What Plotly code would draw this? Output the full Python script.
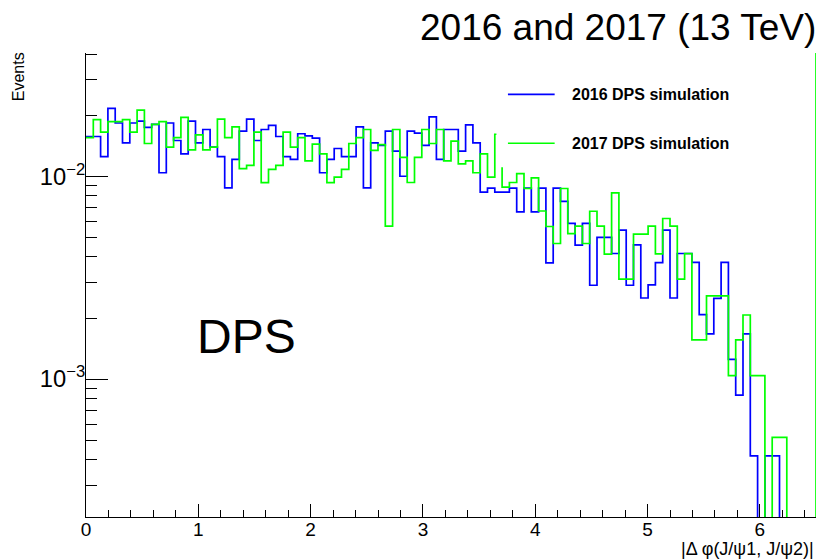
import numpy as np
import plotly.graph_objects as go

# ---- data ----
x_min, x_max, n_bins = 0.0, 6.5, 100

dps_2016 = [
    0.0157, 0.0157, 0.0125, 0.0216, 0.0183, 0.0146, 0.0183, 0.0187, 0.0174, 0.0180,
    0.0104, 0.0183, 0.0150, 0.0129, 0.0187, 0.0146, 0.0170, 0.0139, 0.0125, 0.00876,
    0.0121, 0.0167, 0.0191, 0.0150, 0.0170, 0.0178, 0.0157, 0.0125, 0.0121, 0.0162,
    0.0158, 0.0154, 0.0104, 0.0121, 0.0137, 0.0125, 0.0125, 0.0175, 0.00876, 0.0146,
    0.0142, 0.0167, 0.0133, 0.0100, 0.0167, 0.0163, 0.0142, 0.0196, 0.0121, 0.0170,
    0.0170, 0.0133, 0.0179, 0.0146, 0.00834, 0.00873, 0.00834, 0.00834, 0.00873, 0.00667,
    0.00873, 0.00667, 0.00873, 0.00374, 0.00873, 0.00751, 0.00585, 0.00457, 0.00585, 0.00290,
    0.00499, 0.00499, 0.00416, 0.00542, 0.00290, 0.00459, 0.00251, 0.00291, 0.00375, 0.00542,
    0.00251, 0.00416, 0.00416, 0.00376, 0.00208, 0.00167, 0.00250, 0.00376, 0.00125, 0.000834,
    0.00167, 0.000418, 0.0, 0.000418, 0.000418, 0.0, 0.0, 0.0, 0.0, 0.0,
]

dps_2017 = [
    0.0155, 0.0190, 0.0165, 0.0186, 0.0186, 0.0190, 0.0165, 0.0212, 0.0145, 0.0180,
    0.0186, 0.0139, 0.0155, 0.0195, 0.0135, 0.0160, 0.0135, 0.0139, 0.0191, 0.0155,
    0.0175, 0.0109, 0.0113, 0.0165, 0.00929, 0.0108, 0.0113, 0.0165, 0.0139, 0.0155,
    0.0119, 0.0144, 0.0129, 0.00929, 0.00989, 0.0108, 0.0145, 0.0155, 0.0170, 0.0134,
    0.0143, 0.00568, 0.0170, 0.0124, 0.00931, 0.0124, 0.0170, 0.0145, 0.0170, 0.0119,
    0.0149, 0.0115, 0.0119, 0.0104, 0.0129, 0.00989, 0.0161, 0.00883, 0.00931, 0.0103,
    0.00870, 0.00981, 0.00674, 0.00565, 0.00466, 0.00870, 0.00521, 0.00567, 0.00466, 0.00672,
    0.00567, 0.00413, 0.00827, 0.00311, 0.00311, 0.00518, 0.00518, 0.00568, 0.00414, 0.00619,
    0.00568, 0.00311, 0.00415, 0.00156, 0.00156, 0.00257, 0.00257, 0.00257, 0.00104, 0.00156,
    0.00207, 0.00104, 0.00104, 0.0, 0.000516, 0.000516, 0.0, 0.0, 0.0, 0.0,
]

series_names = ["2016 DPS simulation", "2017 DPS simulation"]
series_colors = ["rgb(0,0,255)", "rgb(0,255,0)"]
title_text = "2016 and 2017 (13 TeV)"
x_title = "|\u0394 \u03c6(J/\u03c81, J/\u03c82)|"
y_title = "Events"
y_range = [-3.68, -1.3925]  # log10

# ---- build figure ----
edges = np.linspace(x_min, x_max, n_bins + 1)
floor = 1e-6  # empty bins drop below the axis


def step_trace(vals, name, color):
    v = [val if val > 0 else floor for val in vals]
    return go.Scatter(
        x=edges, y=v + [v[-1]], mode="lines", line_shape="hv",
        line=dict(color=color, width=1.7), name=name, showlegend=False,
        hoverinfo="skip",
    )


fig = go.Figure()
fig.add_trace(step_trace(dps_2016, series_names[0], series_colors[0]))
fig.add_trace(step_trace(dps_2017, series_names[1], series_colors[1]))

font_main = "Liberation Sans, Arial, sans-serif"

fig.update_layout(
    width=828, height=560,
    margin=dict(l=86, r=12, t=53, b=43),
    paper_bgcolor="white", plot_bgcolor="white",
    font=dict(family=font_main, color="black"),
    xaxis=dict(
        range=[x_min, x_max], showgrid=False, zeroline=False,
        showline=True, linecolor="black", linewidth=1,
        ticks="inside", ticklen=13, tickcolor="black", dtick=1, tick0=0,
        tickfont=dict(size=19), ticklabelstandoff=-5,
        minor=dict(ticks="inside", ticklen=7, dtick=0.2, tickcolor="black", showgrid=False),
    ),
    yaxis=dict(
        type="log", range=y_range, showgrid=False, zeroline=False,
        showline=True, linecolor="black", linewidth=1,
        ticks="inside", ticklen=22, tickcolor="black", dtick=1,
        exponentformat="power", tickfont=dict(size=19), ticklabelstandoff=-4,
        minor=dict(ticks="inside", ticklen=11, dtick="D1", tickcolor="black", showgrid=False),
    ),
)

# right-hand edge line (green)
fig.add_shape(type="line", xref="x", yref="paper", x0=x_max, x1=x_max, y0=0, y1=1,
              line=dict(color=series_colors[1], width=1.7))

# legend box (white, covers the histograms beneath)
fig.add_shape(type="rect", xref="paper", yref="paper", x0=0.5622, x1=0.9027,
              y0=0.754, y1=0.963, fillcolor="white", line=dict(width=0), layer="above")
leg_y = [0.911, 0.8055]
for name, color, yy in zip(series_names, series_colors, leg_y):
    fig.add_shape(type="line", xref="paper", yref="paper", x0=0.578, x1=0.642,
                  y0=yy, y1=yy, line=dict(color=color, width=1.7), layer="above")
    fig.add_annotation(text="<b>%s</b>" % name, xref="paper", yref="paper",
                       x=0.663, y=yy, xanchor="left", yanchor="middle",
                       showarrow=False, font=dict(size=16, family=font_main))

fig.add_annotation(text=title_text, xref="paper", yref="paper", x=1.0027, y=1.054,
                   xanchor="right", yanchor="middle", showarrow=False,
                   font=dict(size=37, family=font_main))
fig.add_annotation(text="DPS", xref="paper", yref="paper", x=0.149, y=0.388,
                   xanchor="left", yanchor="middle", showarrow=False,
                   font=dict(size=48, family=font_main))
fig.add_annotation(text=y_title, xref="paper", yref="paper", x=-0.093, y=0.948,
                   xanchor="center", yanchor="middle", textangle=-90, showarrow=False,
                   font=dict(size=16, family=font_main))
fig.add_annotation(text=x_title, xref="paper", yref="paper", x=1.0, y=-0.068,
                   xanchor="right", yanchor="middle", showarrow=False,
                   font=dict(size=18, family=font_main))

fig.write_html(
    "out.html",
    config={"displayModeBar": False},
    post_script="document.body.style.margin='0';document.body.style.padding='0';",
)
